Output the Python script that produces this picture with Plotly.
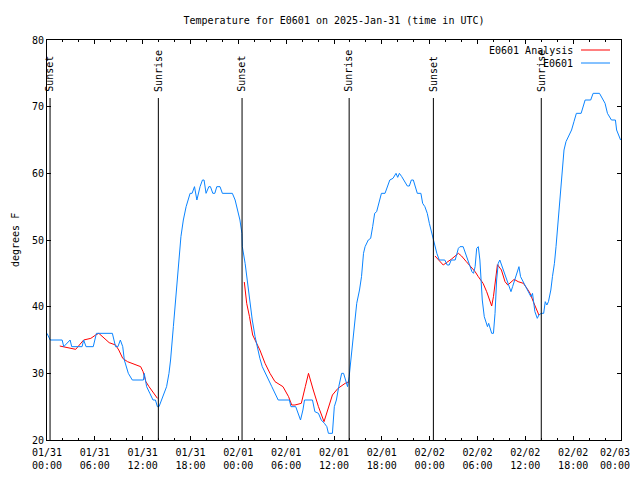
import pandas as pd
import plotly.graph_objects as go

START = "2025-01-31 00:00"
END = "2025-02-03 00:00"

# Observations (hours after 2025-01-31 00:00 UTC, degrees F)
obs_hours = [0.0, 0.4, 1.9, 2.1, 2.9, 3.1, 4.4, 4.6, 4.9, 5.8, 6.2, 8.2, 8.6, 8.9, 9.2, 9.5, 9.7, 10.0,
             10.2, 10.7, 12.1, 12.2, 12.5, 12.9, 13.3, 13.6, 13.85, 14.05, 14.35, 14.7, 15.0, 15.3, 15.5,
             15.85, 16.2, 16.5, 16.8, 17.1, 17.45, 17.95, 18.2, 18.5, 18.8, 19.2, 19.5, 19.7, 19.95, 20.3,
             20.5, 20.8, 21.05, 21.3, 21.7, 22.0, 23.25, 23.6, 23.9, 24.2, 24.45, 24.5, 24.85, 25.1, 25.3,
             25.5, 25.75, 26.1, 26.4, 26.7, 27.0, 27.35, 27.8, 28.2, 28.6, 29.0, 30.4, 30.6, 31.2, 31.5,
             31.8, 32.1, 32.3, 33.3, 33.6, 34.05, 34.4, 34.8, 35.1, 35.3, 35.8, 36.04, 36.3, 36.6, 36.96,
             37.2, 37.5, 37.7, 37.9, 38.2, 38.55, 38.85, 39.2, 39.45, 39.7, 39.9, 40.3, 40.6, 40.85, 41.1,
             41.35, 41.7, 41.95, 42.4, 42.7, 43.0, 43.4, 43.78, 43.99, 44.2, 44.5, 44.78, 45.2, 45.45, 45.7,
             45.95, 46.16, 46.45, 46.9, 47.12, 47.4, 47.7, 47.96, 48.25, 48.6, 48.9, 49.2, 49.9, 50.2,
             50.45, 50.7, 51.2, 51.6, 51.8, 52.2, 52.5, 52.8, 53.1, 53.3, 53.5, 53.7, 53.9, 54.1, 54.3,
             54.45, 54.6, 54.85, 55.06, 55.25, 55.4, 55.6, 55.78, 56.0, 56.2, 56.4, 56.6, 56.8, 57.1,
             57.35, 57.65, 57.95, 58.2, 58.4, 58.7, 59.0, 59.2, 59.4, 59.6, 59.95, 60.4, 60.7, 60.9,
             61.05, 61.2, 61.5, 61.7, 62.0, 62.3, 62.5, 62.7, 62.9, 63.2, 63.4, 63.65, 63.85, 64.05, 64.3,
             64.5, 64.65, 64.85, 65.1, 65.4, 65.6, 65.8, 66.1, 66.4, 67.0, 67.4, 67.5, 68.2, 68.5, 69.3,
             69.6, 70.0, 70.3, 70.6, 70.8, 71.3, 71.45, 71.7, 71.95]
obs_temp = [36, 35, 35, 34, 35, 34, 34, 35, 34, 34, 36, 36, 34, 34, 35, 34, 32, 31,
            30, 29, 29, 30, 28, 27, 26, 26, 25, 25, 26, 27, 28, 30, 32,
            37, 42, 47, 50.5, 53, 55, 57, 57, 58, 56, 58, 59, 59, 57, 58,
            58, 57, 57, 58, 58, 57, 57, 56, 54.5, 53, 51, 49, 46.5, 44, 42,
            40.5, 38, 35.5, 33.75, 32.25, 31, 30, 29, 28, 27, 26, 26, 25, 25, 24,
            23, 24.5, 26, 26, 24.25, 24, 23, 22.5, 22, 21, 21, 25, 26, 28, 30,
            30, 28.75, 28, 29.5, 33, 37.5, 40.5, 42.5, 44.5, 48, 49, 50, 50.25, 52, 54,
            54.25, 56, 57, 57, 58, 59, 59.25, 60, 59.4, 60, 59.5, 59, 58.1, 58.1, 59,
            59, 58, 57, 57, 55.5, 55, 54, 52.5, 51, 49.5, 48, 47, 47, 46.25,
            46.25, 47, 47, 48.75, 49, 49, 48, 47, 45.75, 45.25, 45, 46, 48.75, 49, 47,
            43.5, 41, 38.5, 37.5, 37, 37.5, 36.5, 36, 36, 39, 44, 46.5, 47, 46,
            45, 44, 43.25, 42.25, 43, 44, 45, 46, 44.5, 44, 43.25, 42.25, 41.5, 42,
            40.5, 39.25, 38.25, 38.75, 39, 39, 40.75, 40.25, 40.75, 42.5, 44.5, 46.5, 49, 52, 56,
            59, 61.5, 63.5, 64.75, 65.5, 66, 66.5, 67.75, 69, 69, 70.5, 71, 71, 72, 72,
            71.25, 70.5, 69, 68.5, 68, 68, 66.5, 65.75, 65]

# Analysis (None separates the nightly runs)
ana_hours = [1.6, 2.8, 3.6, 4.6, 5.5, 6.1, 6.5, 7.8, 8.6, 9.0, 9.5, 10.1, 11.1, 11.75, 12.05, 12.4, 12.8,
             13.1, 13.85, None,
             24.75, 25.05, 25.4, 25.8, 26.3, 26.7, 27.35, 27.97, 28.6, 29.6, 30.3, 30.7, 31.1, 31.9, 32.4,
             32.8, 33.4, 34.05, 34.75, 35.3, 35.8, 36.5, 37.4, 37.9, None,
             48.67, 49.2, 49.7, 50.1, 50.7, 51.6, 52.0, 52.6, 53.3, 53.7, 54.1, 54.7, 55.15, 55.45, 55.78,
             56.0, 56.2, 56.5, 57.0, 57.45, 57.8, 58.2, 58.6, 59.1, 59.75, 60.2, 60.6, 61.0, 61.4, 61.7]
ana_temp = [34.1, 33.85, 33.6, 35, 35.25, 35.75, 36, 34.6, 34.25, 33.5, 32.25, 31.75, 31.25, 31, 30.25, 28.75, 28,
            27.5, 26.25, None,
            43.7, 40.5, 38.5, 35.75, 34.5, 33.5, 31.5, 30, 28.75, 28, 26.5, 25.25, 25.25, 25.5, 28,
            30, 27.5, 25, 22.75, 25, 26.75, 27.75, 28.5, 28.75, None,
            47.6, 46.9, 46.25, 46.6, 47.1, 48, 47.6, 46.75, 45.75, 45.25, 44.5, 43.5, 42.25, 41.25, 40.1,
            41.5, 43.5, 46.3, 45.5, 43.75, 43.25, 43.75, 44.1, 43.75, 43.5, 42.75, 42, 40.75, 39.5, 38.75]

sun_times = ["2025-01-31 00:23", "2025-01-31 13:58", "2025-02-01 00:28",
             "2025-02-01 13:54", "2025-02-02 00:28", "2025-02-02 14:00"]
sun_labels = ["Sunset", "Sunrise", "Sunset", "Sunrise", "Sunset", "Sunrise"]

tick_times = ["2025-01-31 00:00", "2025-01-31 06:00", "2025-01-31 12:00", "2025-01-31 18:00",
              "2025-02-01 00:00", "2025-02-01 06:00", "2025-02-01 12:00", "2025-02-01 18:00",
              "2025-02-02 00:00", "2025-02-02 06:00", "2025-02-02 12:00", "2025-02-02 18:00",
              "2025-02-03 00:00"]
tick_labels = ["01/31<br>00:00", "01/31<br>06:00", "01/31<br>12:00", "01/31<br>18:00",
               "02/01<br>00:00", "02/01<br>06:00", "02/01<br>12:00", "02/01<br>18:00",
               "02/02<br>00:00", "02/02<br>06:00", "02/02<br>12:00", "02/02<br>18:00",
               "02/03<br>00:00"]

series_names = ["E0601 Analysis", "E0601"]
series_colors = ["#ff0000", "#0a84ff"]

FONT = "DejaVu Sans Mono"
base = pd.Timestamp(START)

# the page body adds an 8px offset; the figure is sized/margined so the plot frame
# lands at x 47..621, y 40..440 of the 640x480 window
W, H = 632, 464


def to_time(hours):
    return [None if h is None else base + pd.Timedelta(hours=h) for h in hours]


fig = go.Figure()
fig.add_trace(go.Scatter(x=to_time(ana_hours), y=ana_temp, mode="lines", name=series_names[0],
                         line=dict(color=series_colors[0], width=1), connectgaps=False, showlegend=False))
fig.add_trace(go.Scatter(x=to_time(obs_hours), y=obs_temp, mode="lines", name=series_names[1],
                         line=dict(color=series_colors[1], width=1), showlegend=False))

for t, lab in zip(sun_times, sun_labels):
    fig.add_shape(type="line", xref="x", yref="y", x0=t, x1=t, y0=20, y1=71.3,
                  line=dict(color="black", width=1))
    fig.add_annotation(x=t, y=72.1, xref="x", yref="y", text=lab, textangle=-90, showarrow=False,
                       xanchor="center", yanchor="bottom", borderpad=0,
                       font=dict(family=FONT, size=10, color="black"))

# legend drawn gnuplot-style: text then line sample
for i, (nm, col) in enumerate(zip(series_names, series_colors)):
    ypix = 50 + 13 * i
    yp = (440 - ypix) / 400
    fig.add_annotation(x=(574 - 47) / 574, y=yp, xref="paper", yref="paper", text=nm, showarrow=False,
                       xanchor="right", yanchor="middle", borderpad=0,
                       font=dict(family=FONT, size=10, color="black"))
    fig.add_shape(type="line", xref="paper", yref="paper", x0=(581 - 47) / 574, x1=(610 - 47) / 574,
                  y0=yp, y1=yp, line=dict(color=col, width=1))

# y-axis title as rotated text
fig.add_annotation(x=(15 - 47) / 574, y=0.5, xref="paper", yref="paper", text="degrees F",
                   textangle=-90, showarrow=False, xanchor="center", yanchor="middle",
                   font=dict(family=FONT, size=10, color="black"))

# last x tick label: placed right-aligned so it stays inside the window
fig.add_annotation(x=tick_times[-1], y=0, xref="x", yref="paper", text=tick_labels[-1],
                   showarrow=False, xanchor="right", yanchor="top", xshift=10, yshift=-6,
                   borderpad=0, align="center", font=dict(family=FONT, size=10, color="black"))

fig.update_layout(
    width=W, height=H,
    margin=dict(l=39, r=W - 613, t=32, b=H - 432, autoexpand=False),
    paper_bgcolor="white", plot_bgcolor="white",
    font=dict(family=FONT, size=10, color="black"),
    title=dict(text="Temperature for E0601 on 2025-Jan-31 (time in UTC)", x=0.5, xref="paper",
               xanchor="center", yref="container", y=1 - 12 / H, yanchor="middle",
               font=dict(family=FONT, size=10, color="black"), automargin=False),
    showlegend=False,
)
fig.update_xaxes(
    type="date", range=[START, END], showgrid=False, zeroline=False, automargin=False,
    showline=True, linecolor="black", linewidth=1, mirror="allticks",
    ticks="inside", ticklen=4, tickcolor="black", tickwidth=1, ticklabelstandoff=3,
    tickvals=tick_times, ticktext=tick_labels[:-1] + [""],
    minor=dict(dtick=2 * 3600 * 1000, tick0=START, ticks="inside", ticklen=2, tickcolor="black",
               showgrid=False),
    tickfont=dict(family=FONT, size=10, color="black"),
)
fig.update_yaxes(
    range=[20, 80], showgrid=False, zeroline=False, automargin=False,
    showline=True, linecolor="black", linewidth=1, mirror="allticks",
    ticks="inside", ticklen=4, tickcolor="black", tickwidth=1, dtick=10, tick0=20,
    tickfont=dict(family=FONT, size=10, color="black"),
)

fig.write_html("out.html")
